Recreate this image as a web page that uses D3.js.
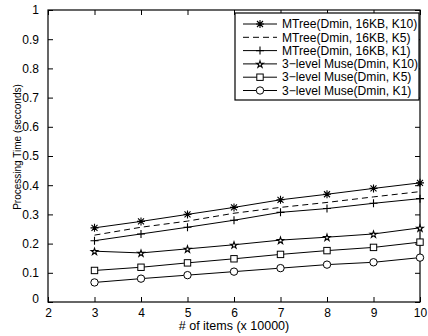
<!DOCTYPE html>
<html>
<head>
<meta charset="utf-8">
<script src="https://cdn.jsdelivr.net/npm/d3@7"></script>
<style>
  body { margin: 0; background: #fff; }
  text { font-family: "Liberation Sans", Arial, Helvetica, sans-serif; fill: #000; }
</style>
</head>
<body>
<div id="chart"></div>
<script>
const width = 428;
const height = 336;
const margin = { top: 10, right: 8, bottom: 34, left: 48 };

const items = [3, 4, 5, 6, 7, 8, 9, 10];
const xTicks = [2, 3, 4, 5, 6, 7, 8, 9, 10];
const yTicks = [0, 0.1, 0.2, 0.3, 0.4, 0.5, 0.6, 0.7, 0.8, 0.9, 1];

const mtreeK10 = [0.254, 0.276, 0.300, 0.324, 0.350, 0.369, 0.389, 0.408];
const mtreeK5  = [0.229, 0.256, 0.277, 0.304, 0.324, 0.341, 0.360, 0.378];
const mtreeK1  = [0.210, 0.233, 0.256, 0.280, 0.307, 0.320, 0.338, 0.354];
const museK10  = [0.174, 0.168, 0.182, 0.196, 0.212, 0.222, 0.233, 0.254];
const museK5   = [0.108, 0.119, 0.134, 0.148, 0.163, 0.176, 0.187, 0.205];
const museK1   = [0.067, 0.080, 0.092, 0.104, 0.116, 0.128, 0.136, 0.152];

const seriesNames = [
  "MTree(Dmin, 16KB, K10)",
  "MTree(Dmin, 16KB, K5)",
  "MTree(Dmin, 16KB, K1)",
  "3\u2212level Muse(Dmin, K10)",
  "3\u2212level Muse(Dmin, K5)",
  "3\u2212level Muse(Dmin, K1)"
];
const seriesValues = [mtreeK10, mtreeK5, mtreeK1, museK10, museK5, museK1];
const markers = ["asterisk", "none", "plus", "star", "square", "circle"];
const dashes = [null, "6,4", null, null, null, null];

const svg = d3.select("#chart").append("svg")
  .attr("width", width)
  .attr("height", height);

const x = d3.scaleLinear().domain([2, 10]).range([margin.left, width - margin.right]);
const y = d3.scaleLinear().domain([0, 1]).range([height - margin.bottom, margin.top]);

// axes, matlab style: ticks inside, box all round
svg.append("g")
  .attr("transform", `translate(0,${y(0)})`)
  .call(d3.axisBottom(x).tickValues(xTicks).tickSizeInner(-5).tickSizeOuter(0).tickPadding(6))
  .call(g => g.select(".domain").remove());
svg.append("g")
  .attr("transform", `translate(0,${y(1)})`)
  .call(d3.axisTop(x).tickValues(xTicks).tickSizeInner(-5).tickSizeOuter(0).tickFormat(""))
  .call(g => g.select(".domain").remove());
svg.append("g")
  .attr("transform", `translate(${x(2)},0)`)
  .call(d3.axisLeft(y).tickValues(yTicks).tickSizeInner(-5).tickSizeOuter(0).tickPadding(9).tickFormat(d3.format("~g")))
  .call(g => g.select(".domain").remove());
svg.append("g")
  .attr("transform", `translate(${x(10)},0)`)
  .call(d3.axisRight(y).tickValues(yTicks).tickSizeInner(-5).tickSizeOuter(0).tickFormat(""))
  .call(g => g.select(".domain").remove());

svg.selectAll(".tick text").style("font-size", "12px");
svg.selectAll(".tick line").attr("stroke", "#000");

// the "0" on the y axis sits a bit up, like matlab does
svg.selectAll(".tick text").filter(d => d === 0).attr("dy", "0.05em");

svg.append("rect")
  .attr("x", x(2)).attr("y", y(1))
  .attr("width", x(10) - x(2)).attr("height", y(0) - y(1))
  .attr("fill", "none").attr("stroke", "#000").attr("stroke-width", 1.2);

function drawMarker(g, type, cx, cy) {
  const s = 4;
  if (type === "asterisk") {
    const p = `M${cx - s},${cy}H${cx + s}M${cx},${cy - s}V${cy + s}` +
      `M${cx - 3},${cy - 3}L${cx + 3},${cy + 3}M${cx - 3},${cy + 3}L${cx + 3},${cy - 3}`;
    g.append("path").attr("d", p).attr("stroke", "#000").attr("stroke-width", 1.1).attr("fill", "none");
  } else if (type === "plus") {
    g.append("path").attr("d", `M${cx - s},${cy}H${cx + s}M${cx},${cy - s}V${cy + s}`)
      .attr("stroke", "#000").attr("stroke-width", 1.1);
  } else if (type === "star") {
    g.append("path")
      .attr("d", d3.symbol().type(d3.symbolStar).size(14)())
      .attr("transform", `translate(${cx},${cy + 0.5})`)
      .attr("fill", "#fff").attr("stroke", "#000").attr("stroke-width", 1.1);
  } else if (type === "square") {
    g.append("rect").attr("x", cx - 3.2).attr("y", cy - 3.2).attr("width", 6.4).attr("height", 6.4)
      .attr("fill", "#fff").attr("stroke", "#000").attr("stroke-width", 1);
  } else if (type === "circle") {
    g.append("circle").attr("cx", cx).attr("cy", cy).attr("r", 3.7)
      .attr("fill", "#fff").attr("stroke", "#000").attr("stroke-width", 1);
  }
}

const line = d3.line().x((d, i) => x(items[i])).y(d => y(d));

seriesValues.forEach((vals, k) => {
  const g = svg.append("g");
  g.append("path")
    .datum(vals)
    .attr("d", line)
    .attr("fill", "none")
    .attr("stroke", "#000")
    .attr("stroke-width", 1)
    .attr("stroke-dasharray", dashes[k]);
  vals.forEach((v, i) => drawMarker(g, markers[k], x(items[i]), y(v)));
});

// legend
const lg = svg.append("g").attr("transform", "translate(235,13)");
lg.append("rect").attr("width", 184).attr("height", 87)
  .attr("fill", "#fff").attr("stroke", "#000").attr("stroke-width", 1.2);
seriesNames.forEach((name, k) => {
  const ly = 11 + k * 13.3;
  lg.append("line").attr("x1", 8).attr("x2", 42).attr("y1", ly).attr("y2", ly)
    .attr("stroke", "#000").attr("stroke-width", 1).attr("stroke-dasharray", dashes[k]);
  drawMarker(lg, markers[k], 25, ly);
  lg.append("text").attr("x", 47).attr("y", ly).attr("dy", "0.35em")
    .style("font-size", "12.1px").text(name);
});

svg.append("text")
  .attr("x", (x(2) + x(10)) / 2).attr("y", 330)
  .attr("text-anchor", "middle").style("font-size", "12.5px")
  .text("# of items (x 10000)");

svg.append("text")
  .attr("transform", `translate(17,147) rotate(-90)`)
  .attr("text-anchor", "middle").attr("dy", "0.35em").style("font-size", "10px")
  .text("Processing Time (secconds)");
</script>
</body>
</html>
